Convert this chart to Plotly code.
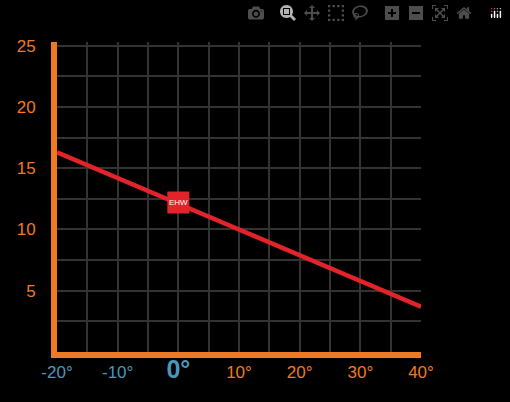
import plotly.graph_objects as go

# heating curve
x_temp = [-20, 40]
y_flow = [16.3, 3.7]
point_x = [0]
point_y = [12.2]
point_label = ["EHW"]

x_ticks = [-20, -15, -10, -5, 0, 5, 10, 15, 20, 25, 30, 35, 40]
x_text = ["-20°", "", "-10°", "", "0°", "", "10°", "", "20°", "", "30°", "", "40°"]
y_ticks = [2.5, 5, 7.5, 10, 12.5, 15, 17.5, 20, 22.5, 25]
y_text = ["", "5", "", "10", "", "15", "", "20", "", "25"]

ORANGE = "#f07a22"
BLUE = "#4a98bd"

def fmt_x(v, t):
    if t == "":
        return ""
    if v == 0:
        return "<span style='font-size:25px;color:%s'><b>%s</b></span>" % (BLUE, t)
    if v < 0:
        return "<span style='color:%s'>%s</span>" % (BLUE, t)
    return t

fig = go.Figure()
fig.add_trace(go.Scatter(x=x_temp, y=y_flow, mode="lines",
                         line=dict(color="#e3232a", width=4.5), hoverinfo="skip"))
fig.add_trace(go.Scatter(x=point_x, y=point_y, mode="markers+text", text=point_label,
                         textposition="middle center",
                         textfont=dict(color="white", size=8, family="Liberation Sans"),
                         marker=dict(symbol="square", size=22, color="#e3232a")))

fig.update_layout(
    width=510, height=402,
    paper_bgcolor="black", plot_bgcolor="black",
    showlegend=False,
    margin=dict(l=57, r=89, t=42, b=50),
    font=dict(family="Liberation Sans", size=17, color=ORANGE),
)
fig.update_xaxes(range=[-20, 40], tickvals=x_ticks,
                 ticktext=[fmt_x(v, t) for v, t in zip(x_ticks, x_text)],
                 showgrid=True, gridcolor="#333333", gridwidth=2, zeroline=False,
                 showline=True, linecolor=ORANGE, linewidth=6, ticks="")
fig.update_yaxes(range=[0, 25.3], tickvals=y_ticks, ticktext=y_text,
                 showgrid=True, gridcolor="#333333", gridwidth=2, zeroline=False,
                 showline=True, linecolor=ORANGE, linewidth=6, ticks="",
                 ticklabelstandoff=12)

fig.write_html("out.html",
               post_script="document.body.style.margin='0';document.body.style.background='black';")
